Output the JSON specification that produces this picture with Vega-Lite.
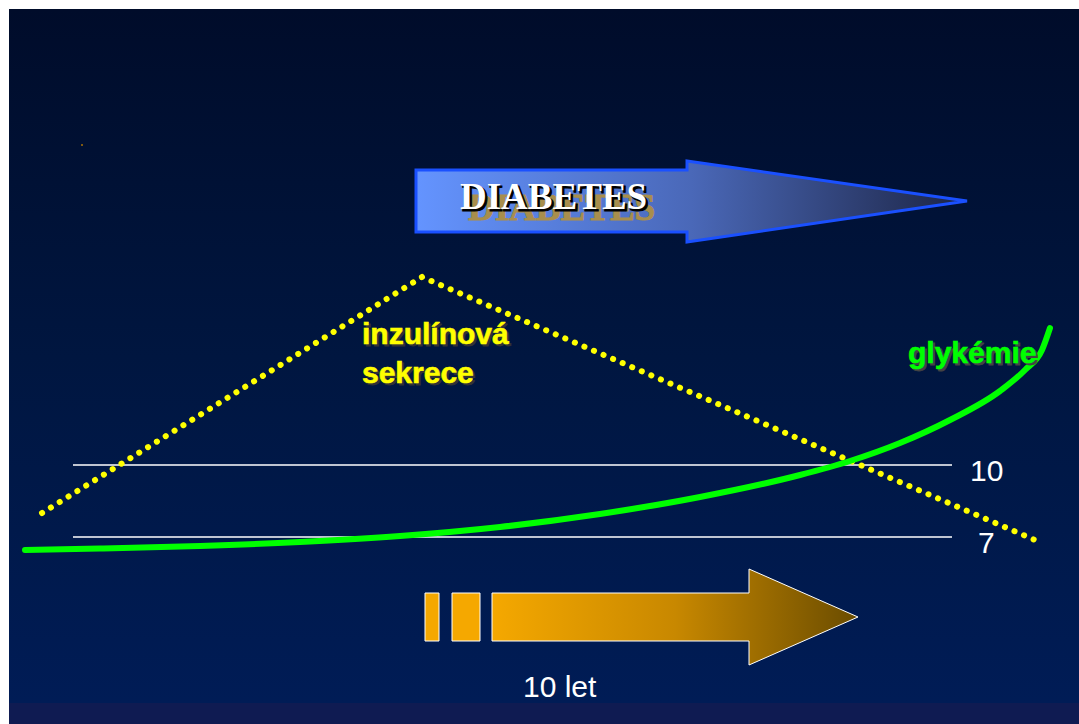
{
  "$schema": "https://vega.github.io/schema/vega-lite/v6.json",
  "width": 1079,
  "height": 724,
  "padding": 0,
  "autosize": {"type": "fit", "contains": "padding"},
  "background": "#ffffff",
  "config": {"view": {"stroke": null}},
  "datasets": {
    "bg": [{"x": 9, "x2": 1079, "y": 9, "y2": 703}],
    "strip": [{"x": 9, "x2": 1079, "y": 703, "y2": 724}],
    "speck": [{"x": 82, "y": 145}],
    "blueArrow": [
      {"x": 416, "y": 170, "y2": 232},
      {"x": 687, "y": 170, "y2": 232},
      {"x": 687.01, "y": 161, "y2": 242},
      {"x": 967, "y": 201, "y2": 201}
    ],
    "diabBrown": [{"x": 468, "y": 220, "text": "DIABETES"}],
    "diabShadow": [{"x": 462, "y": 211, "text": "DIABETES"}],
    "diabWhite": [{"x": 460, "y": 209, "text": "DIABETES"}],
    "levels": [
      {"x": 73, "x2": 952, "y": 465, "label": "10"},
      {"x": 73, "x2": 952, "y": 537, "label": "7"}
    ],
    "levelLabels": [
      {"x": 970, "y": 481, "text": "10"},
      {"x": 978, "y": 553, "text": "7"}
    ],
    "insulin": [
      {"x": 42, "y": 513},
      {"x": 422, "y": 277},
      {"x": 1042, "y": 543}
    ],
    "glycemia": [
      {"x": 25, "y": 550},
      {"x": 100, "y": 548.5},
      {"x": 200, "y": 546},
      {"x": 300, "y": 542},
      {"x": 400, "y": 536},
      {"x": 500, "y": 527},
      {"x": 600, "y": 514},
      {"x": 700, "y": 497},
      {"x": 800, "y": 475},
      {"x": 850, "y": 461},
      {"x": 900, "y": 443},
      {"x": 950, "y": 420},
      {"x": 1000, "y": 391},
      {"x": 1025, "y": 370},
      {"x": 1042, "y": 350},
      {"x": 1050, "y": 328}
    ],
    "insulinLabel": [
      {"x": 362, "y": 344, "text": "inzulínová"},
      {"x": 362, "y": 383, "text": "sekrece"}
    ],
    "glyLabel": [{"x": 908, "y": 363, "text": "glykémie"}],
    "bars": [
      {"x": 425, "x2": 439, "y": 593, "y2": 641},
      {"x": 452, "x2": 480, "y": 593, "y2": 641}
    ],
    "orangeArrow": [
      {"x": 492, "y": 593, "y2": 641},
      {"x": 749, "y": 593, "y2": 641},
      {"x": 749.01, "y": 569, "y2": 665},
      {"x": 858, "y": 617, "y2": 617}
    ],
    "years": [{"x": 523, "y": 697, "text": "10 let"}]
  },
  "encoding": {
    "x": {"field": "x", "type": "quantitative", "scale": {"domain": [0, 1079], "nice": false, "zero": false}, "axis": null},
    "y": {"field": "y", "type": "quantitative", "scale": {"domain": [0, 724], "nice": false, "zero": false, "reverse": true}, "axis": null}
  },
  "layer": [
    {
      "data": {"name": "bg"},
      "mark": {"type": "rect", "fill": {"gradient": "linear", "x1": 0, "y1": 0, "x2": 0, "y2": 1, "stops": [{"offset": 0, "color": "#000c2a"}, {"offset": 0.5, "color": "#001640"}, {"offset": 1, "color": "#001c56"}]}},
      "encoding": {"x2": {"field": "x2"}, "y2": {"field": "y2"}}
    },
    {
      "data": {"name": "strip"},
      "mark": {"type": "rect", "fill": "#0f1b52"},
      "encoding": {"x2": {"field": "x2"}, "y2": {"field": "y2"}}
    },
    {
      "data": {"name": "speck"},
      "mark": {"type": "square", "filled": true, "color": "#c08000", "size": 3, "opacity": 1}
    },
    {
      "data": {"name": "blueArrow"},
      "mark": {"type": "area", "stroke": "#1a50ff", "strokeWidth": 3, "strokeJoin": "miter", "fill": {"gradient": "linear", "x1": 0, "y1": 0, "x2": 1, "y2": 0, "stops": [{"offset": 0, "color": "#6494ff"}, {"offset": 0.5, "color": "#4a68b8"}, {"offset": 1, "color": "#1c2444"}]}},
      "encoding": {"y2": {"field": "y2"}}
    },
    {
      "data": {"name": "diabBrown"},
      "mark": {"type": "text", "align": "left", "baseline": "alphabetic", "font": "Liberation Serif", "fontWeight": "bold", "fontSize": 37, "color": "#a88e4c", "stroke": "#a88e4c", "strokeWidth": 1},
      "encoding": {"text": {"field": "text"}}
    },
    {
      "data": {"name": "diabShadow"},
      "mark": {"type": "text", "align": "left", "baseline": "alphabetic", "font": "Liberation Serif", "fontWeight": "bold", "fontSize": 37, "color": "#000000", "stroke": "#000000", "strokeWidth": 1},
      "encoding": {"text": {"field": "text"}}
    },
    {
      "data": {"name": "diabWhite"},
      "mark": {"type": "text", "align": "left", "baseline": "alphabetic", "font": "Liberation Serif", "fontWeight": "bold", "fontSize": 37, "color": "#ffffff"},
      "encoding": {"text": {"field": "text"}}
    },
    {
      "data": {"name": "levels"},
      "mark": {"type": "rule", "color": "#ffffff", "strokeWidth": 1.5},
      "encoding": {"x2": {"field": "x2"}}
    },
    {
      "data": {"name": "levelLabels"},
      "mark": {"type": "text", "align": "left", "baseline": "alphabetic", "font": "Liberation Sans", "fontSize": 30, "color": "#ffffff"},
      "encoding": {"text": {"field": "text"}}
    },
    {
      "data": {"name": "insulin"},
      "mark": {"type": "line", "color": "#ffff00", "strokeWidth": 6, "strokeCap": "round", "strokeDash": [0.1, 10.3]},
      "encoding": {}
    },
    {
      "data": {"name": "glycemia"},
      "mark": {"type": "line", "color": "#00ff00", "strokeWidth": 6, "strokeCap": "round", "interpolate": "monotone"},
      "encoding": {}
    },
    {
      "data": {"name": "insulinLabel"},
      "mark": {"type": "text", "align": "left", "baseline": "alphabetic", "font": "Liberation Sans", "fontWeight": "bold", "fontSize": 30, "color": "#333333", "stroke": "#333333", "strokeWidth": 0.8, "dx": 2, "dy": 2},
      "encoding": {"text": {"field": "text"}}
    },
    {
      "data": {"name": "insulinLabel"},
      "mark": {"type": "text", "align": "left", "baseline": "alphabetic", "font": "Liberation Sans", "fontWeight": "bold", "fontSize": 30, "color": "#ffff00", "stroke": "#ffff00", "strokeWidth": 0.6},
      "encoding": {"text": {"field": "text"}}
    },
    {
      "data": {"name": "glyLabel"},
      "mark": {"type": "text", "align": "left", "baseline": "alphabetic", "font": "Liberation Sans", "fontWeight": "bold", "fontSize": 30, "color": "#444444", "stroke": "#444444", "strokeWidth": 0.8, "dx": 2, "dy": 2},
      "encoding": {"text": {"field": "text"}}
    },
    {
      "data": {"name": "glyLabel"},
      "mark": {"type": "text", "align": "left", "baseline": "alphabetic", "font": "Liberation Sans", "fontWeight": "bold", "fontSize": 30, "color": "#00ff00", "stroke": "#00ff00", "strokeWidth": 0.6},
      "encoding": {"text": {"field": "text"}}
    },
    {
      "data": {"name": "bars"},
      "mark": {"type": "rect", "fill": "#f5a800", "stroke": "#ffffff", "strokeWidth": 1},
      "encoding": {"x2": {"field": "x2"}, "y2": {"field": "y2"}}
    },
    {
      "data": {"name": "orangeArrow"},
      "mark": {"type": "area", "stroke": "#ffffff", "strokeWidth": 1, "strokeJoin": "miter", "fill": {"gradient": "linear", "x1": 0, "y1": 0, "x2": 1, "y2": 0, "stops": [{"offset": 0, "color": "#f5a800"}, {"offset": 0.5, "color": "#c88800"}, {"offset": 1, "color": "#6a4c00"}]}},
      "encoding": {"y2": {"field": "y2"}}
    },
    {
      "data": {"name": "years"},
      "mark": {"type": "text", "align": "left", "baseline": "alphabetic", "font": "Liberation Sans", "fontSize": 30, "color": "#ffffff"},
      "encoding": {"text": {"field": "text"}}
    }
  ]
}
